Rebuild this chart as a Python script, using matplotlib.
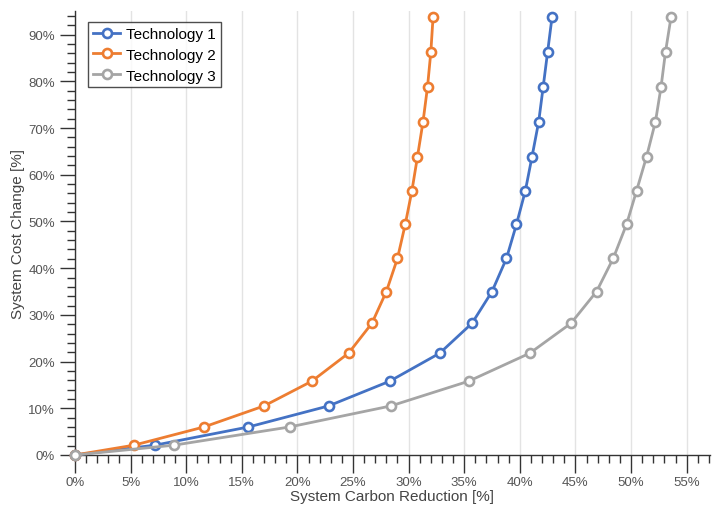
import matplotlib.pyplot as plt
from matplotlib.ticker import MultipleLocator, FuncFormatter

plt.rcParams['font.family'] = ['Liberation Sans', 'DejaVu Sans']

# cost change [%] shared by all technologies
cost_change = [0, 2.1, 6.0, 10.5, 15.8, 21.8, 28.2, 35.0, 42.1, 49.4, 56.6, 63.9, 71.4, 78.8, 86.3, 93.8]

# carbon reduction [%]
tech1 = [0, 7.2, 15.6, 22.8, 28.3, 32.8, 35.7, 37.5, 38.8, 39.7, 40.5, 41.1, 41.7, 42.1, 42.5, 42.9]
tech2 = [0, 5.3, 11.6, 17.0, 21.3, 24.6, 26.7, 28.0, 29.0, 29.7, 30.3, 30.8, 31.3, 31.7, 32.0, 32.2]
tech3 = [0, 8.9, 19.3, 28.4, 35.4, 40.9, 44.6, 46.9, 48.4, 49.6, 50.5, 51.4, 52.2, 52.7, 53.1, 53.6]

labels = ['Technology 1', 'Technology 2', 'Technology 3']
colors = ['#4472C4', '#ED7D31', '#A5A5A5']

fig = plt.figure(figsize=(7.16, 5.10), dpi=100)
ax = fig.add_axes([0.1047, 0.1059, 0.8869, 0.870])

for xs, lab, c in zip([tech1, tech2, tech3], labels, colors):
    ax.plot(xs, cost_change, color=c, lw=2.0, marker='o', ms=6.5,
            mfc='white', mec=c, mew=1.9, label=lab, clip_on=False, zorder=3)

ax.set_xlim(0, 57.1)
ax.set_ylim(0, 95)

ax.xaxis.set_major_locator(MultipleLocator(5))
ax.xaxis.set_minor_locator(MultipleLocator(1))
ax.yaxis.set_major_locator(MultipleLocator(10))
ax.yaxis.set_minor_locator(MultipleLocator(2))
pct = FuncFormatter(lambda v, p: f'{v:.0f}%')
ax.xaxis.set_major_formatter(pct)
ax.yaxis.set_major_formatter(pct)

for s in ['top', 'right']:
    ax.spines[s].set_visible(False)
for s in ['left', 'bottom']:
    ax.spines[s].set_color('#333333')
    ax.spines[s].set_linewidth(1.0)

ax.tick_params(which='major', direction='out', length=11, width=1, color='#333333',
               labelsize=9.5, labelcolor='#555555')
ax.tick_params(which='minor', direction='out', length=6, width=1, color='#333333')
ax.tick_params(axis='x', which='major', length=13, pad=2)

ax.grid(axis='x', which='major', color='#e3e3e3', lw=1)
ax.set_axisbelow(True)

ax.set_xlabel('System Carbon Reduction [%]', fontsize=11, color='#444444', labelpad=1)
ax.set_ylabel('System Cost Change [%]', fontsize=11, color='#444444', labelpad=2)

leg = ax.legend(loc='upper left', bbox_to_anchor=(0.021, 0.975), fontsize=11,
                frameon=True, fancybox=False, borderpad=0.3, handlelength=1.8,
                handletextpad=0.4, labelspacing=0.45, borderaxespad=0)
leg.get_frame().set_edgecolor('#222222')
leg.get_frame().set_linewidth(1.0)

fig.savefig('out.png', dpi=100)
